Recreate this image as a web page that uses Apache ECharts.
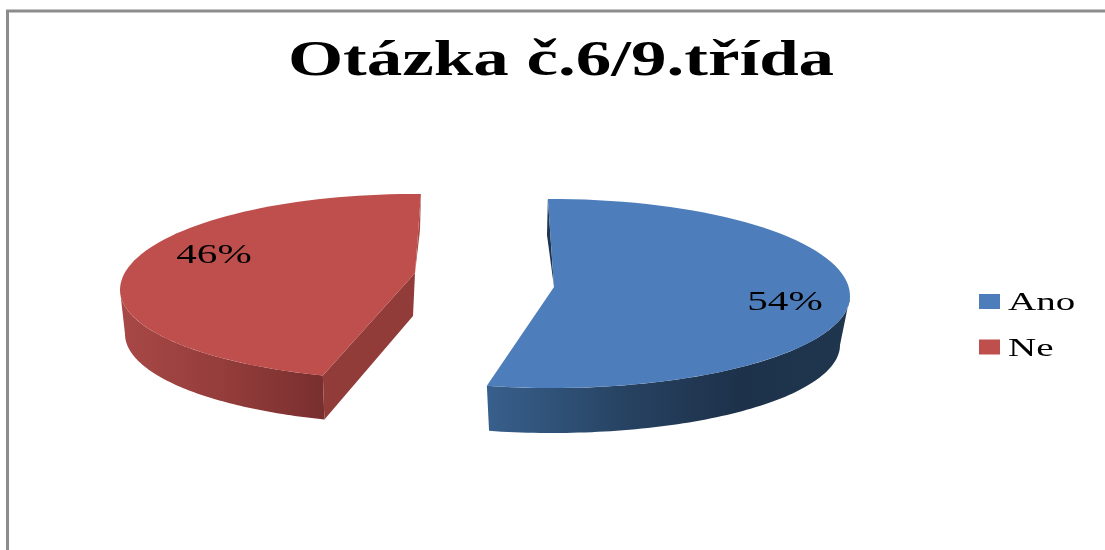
<!DOCTYPE html>
<html>
<head>
<meta charset="utf-8">
<style>html,body{margin:0;padding:0;background:#fff}#c{width:1105px;height:550px;filter:blur(0.5px)}</style>
<script src="https://cdn.jsdelivr.net/npm/echarts@6/dist/echarts.min.js"></script>
</head>
<body>
<div id="c"></div>
<script>
const titleText = 'Otázka č.6/9.třída';
const categories = ['Ano', 'Ne'];
const values = [54, 46];
const colors = ['#4D7EBB', '#BE4F4C'];

const SERIF = '"Liberation Serif","Times New Roman",serif';
const geometry = [
  { start: -0.8, warp: 0.995, apex: [554, 287], cx: 552, cy: 296, rx: 298, ryT: 97, ryB: 92,
    bcx: 552, bcy: 345, brx: 288, bry: 88, sliver: [547, 235],
    wallFrom: 90, wallTo: null, cut: null, label: [785, 302.5],
    wall: [[0, '#38608C'], [0.4, '#264160'], [0.7, '#1D314A'], [1, '#20364F']], sliverColor: '#1F344F' },
  { start: 198.2, warp: 0.984, apex: [415, 273], cx: 415, cy: 290, rx: 295, ryT: 96, ryB: 90,
    bcx: 415, bcy: 334, brx: 290, bry: 90, sliver: [420, 230],
    wallFrom: null, wallTo: 270, cut: { apexBottom: [413, 316], color: '#923C3A' }, label: [214, 255.5],
    wall: [[0, '#A84846'], [0.5, '#943D3B'], [1, '#782F2E']], sliverColor: '#A84846' }
];

function arc(g, a0, a1, bottom) {
  const out = [], n = 80;
  for (let i = 0; i <= n; i++) {
    const t = (a0 + (a1 - a0) * i / n) * Math.PI / 180, s = Math.sin(t), c = Math.cos(t);
    out.push(bottom
      ? [g.bcx + g.brx * s, g.bcy - g.bry * c]
      : [g.cx + g.rx * s, g.cy - (c >= 0 ? g.ryT : g.ryB) * c]);
  }
  return out;
}
function renderItem(params, api) {
  const i = params.dataIndex, g = geometry[i];
  const v = api.value(0);
  const total = values.reduce((a, b) => a + b, 0);
  const sweep = v / total * 360 * g.warp, a0 = g.start, a1 = g.start + sweep;
  const from = g.wallFrom !== null ? g.wallFrom : a0;
  const to = g.wallTo !== null ? g.wallTo : a1;
  const wallPts = arc(g, from, to, false).concat(arc(g, from, to, true).reverse());
  const children = [{
    type: 'polygon', shape: { points: wallPts },
    style: { fill: new echarts.graphic.LinearGradient(0, 0, 1, 0,
      g.wallTo !== null
        ? g.wall.map(s => ({ offset: s[0], color: s[1] }))
        : g.wall.map(s => ({ offset: s[0], color: s[1] }))) }
  }];
  if (g.cut) {
    const corner = arc(g, a0, a0, false)[0], cornerB = arc(g, a0, a0, true)[0];
    children.push({ type: 'polygon', shape: { points: [g.apex, corner, cornerB, g.cut.apexBottom] },
      style: { fill: g.cut.color } });
  }
  const tipAngle = g.wallFrom !== null ? a0 : a1;
  children.push({ type: 'polygon', shape: { points: [arc(g, tipAngle, tipAngle, false)[0], g.sliver, g.apex] },
    style: { fill: g.sliverColor } });
  children.push({ type: 'polygon', shape: { points: [g.apex].concat(arc(g, a0, a1, false)) },
    style: { fill: colors[i] } });
  children.push({
    type: 'text', x: g.label[0], y: g.label[1], scaleX: 1.47,
    style: { text: v + '%', fontFamily: SERIF, fontSize: 28, fill: '#000', align: 'center', verticalAlign: 'middle' }
  });
  return { type: 'group', children };
}

const legendY = [301.5, 347];
const legendTextY = [303, 349];
const chart = echarts.init(document.getElementById('c'), null, { renderer: 'canvas' });
chart.setOption({
  animation: false,
  backgroundColor: '#fff',
  graphic: [
    { type: 'polyline', shape: { points: [[7.5, 550], [7.5, 11], [1105, 11]] },
      style: { stroke: '#8C8C8C', lineWidth: 3, fill: null } },
    { type: 'text', x: 561, y: 62, scaleX: 1.42,
      style: { text: titleText, fontFamily: SERIF, fontWeight: 'bold', fontSize: 50, fill: '#000', align: 'center', verticalAlign: 'middle' } }
  ].concat(categories.flatMap((name, i) => [
    { type: 'rect', shape: { x: 979, y: legendY[i] - 7.5, width: 21, height: 15 }, style: { fill: colors[i] } },
    { type: 'text', x: 1008, y: legendTextY[i], scaleX: 1.5,
      style: { text: name, fontFamily: SERIF, fontSize: 26, fill: '#000', align: 'left', verticalAlign: 'middle' } }
  ])),
  series: [{
    type: 'custom',
    coordinateSystem: 'none',
    renderItem,
    data: categories.map((name, i) => ({ name, value: [values[i]] }))
  }]
});
</script>
</body>
</html>
